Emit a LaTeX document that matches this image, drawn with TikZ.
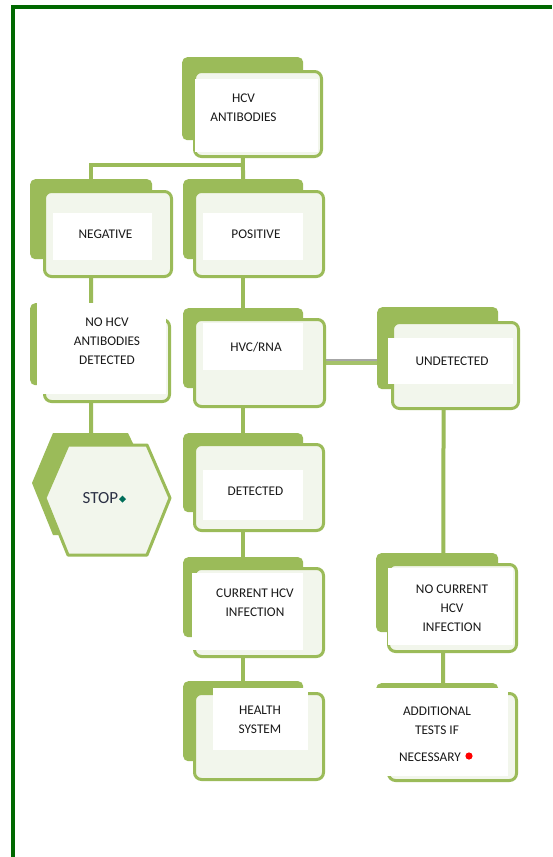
\documentclass[tikz,border=0pt]{standalone}
\usepackage{fontspec}
\setmainfont{Carlito}
\usetikzlibrary{calc}
\definecolor{olivegreen}{RGB}{155,187,89}
\definecolor{tintgreen}{RGB}{242,246,236}
\definecolor{framegreen}{RGB}{0,104,0}
\definecolor{txtc}{RGB}{25,25,25}
\definecolor{stoptxt}{RGB}{45,50,70}
\definecolor{stopdiam}{RGB}{0,110,90}
\pgfdeclarelayer{bg}
\pgfsetlayers{bg,main}
\newcommand\rnode[6]{\node[#1,anchor=north west,inner sep=0pt,minimum width={#5-#3},minimum height={#6-#4}] (#2) at (#3,#4) {};}
\tikzset{
  backbox/.style={fill=olivegreen,draw=none,rounded corners=5pt},
  frontbox/.style={fill=tintgreen,draw=olivegreen,line width=3pt,rounded corners=7pt},
  coverbox/.style={fill=white,draw=none},
  lbl/.style={font=\fontsize{13.3}{19}\selectfont,align=center,text=txtc,inner sep=0pt},
  conn/.style={draw=olivegreen,line width=4pt},
  shadowconn/.style={draw=black!35,line width=2pt},
  framestyle/.style={draw=framegreen,line width=3.5pt}
}
\begin{document}
\begin{tikzpicture}[x=1pt,y=-1pt]
\useasboundingbox (0,0) rectangle (552,857);
\begin{pgfonlayer}{bg}
\fill[white] (0,0) rectangle (552,857);
\end{pgfonlayer}
\draw[framestyle] (13,857) -- (13,7) -- (552,7);

% back boxes
\rnode{backbox}{hcvB}{182}{57}{303}{140}
\rnode{backbox}{negB}{30}{179}{152}{259}
\rnode{backbox}{posB}{183}{179}{303}{259}
\rnode{backbox}{nohB}{30}{303}{152}{385}
\rnode{backbox}{hvcB}{183}{308}{303}{388}
\rnode{backbox}{undB}{377}{307}{498}{389}
\rnode{backbox}{detB}{183}{433}{303}{512}
\rnode{backbox}{curB}{183}{557}{303}{637}
\rnode{backbox}{heaB}{183}{681}{303}{761}
\rnode{backbox}{ncB}{376}{553}{498}{632}
\rnode{backbox}{addB}{376}{683}{498}{760}

% front boxes
\rnode{frontbox}{hcv}{193}{70}{320}{155}
\rnode{frontbox}{neg}{43}{190}{170}{275}
\rnode{frontbox}{pos}{193}{190}{322}{275}
\rnode{frontbox}{noh}{43}{318}{168}{400}
\rnode{frontbox}{hvc}{193}{318}{323}{405}
\rnode{frontbox}{und}{391}{321}{517}{407}
\rnode{frontbox}{det}{193}{443}{322}{529}
\rnode{frontbox}{cur}{193}{567}{322}{655}
\rnode{frontbox}{hea}{193}{692}{322}{778}
\rnode{frontbox}{nc}{387}{563}{515}{650}
\rnode{frontbox}{add}{387}{692}{515}{779}

% white inner areas
\rnode{coverbox}{hcvW}{195}{79}{318}{152}
\rnode{coverbox}{negW}{53}{213}{152}{260}
\rnode{coverbox}{posW}{203}{213}{303}{260}
\rnode{coverbox}{nohW}{37}{303}{166}{394}
\rnode{coverbox}{hvcW}{203}{323}{303}{370}
\rnode{coverbox}{undW}{388}{338}{513}{384}
\rnode{coverbox}{detW}{203}{470}{303}{520}
\rnode{coverbox}{curW}{192}{573}{303}{650}
\rnode{coverbox}{heaW}{213}{688}{308}{750}
\rnode{coverbox}{ncW}{388}{568}{513}{645}
\rnode{coverbox}{addW}{373}{688}{508}{776}

% STOP hexagon
\fill[olivegreen] (53,433) -- (128,433) -- (152,483) -- (128,535) -- (53,535) -- (32,483) -- cycle;
\draw[fill=tintgreen,draw=olivegreen,line width=3pt,line join=round]
  (68,445) -- (147,445) -- (170,498) -- (147,555) -- (68,555) -- (45,498) -- cycle;
\coordinate (stopT) at (91,440);

% labels
\node[lbl] (hcvT) at (243.5,107.5) {HCV\\ANTIBODIES};
\node[lbl] (negT) at (105.5,234) {NEGATIVE};
\node[lbl] (posT) at (256,234) {POSITIVE};
\node[lbl] (nohT) at (107,341.5) {NO HCV\\ANTIBODIES\\DETECTED};
\node[lbl] (hvcT) at (256,347) {HVC/RNA};
\node[lbl] (undT) at (452,361) {UNDETECTED};
\node[lbl] (detT) at (255.5,491) {DETECTED};
\node[lbl] (curT) at (255,603) {CURRENT HCV\\INFECTION};
\node[lbl] (heaT) at (260,719.5) {HEALTH\\SYSTEM};
\node[lbl] (ncT) at (452,608) {NO CURRENT\\HCV\\INFECTION};
\node[lbl] (addT) at (437,720.5) {ADDITIONAL\\TESTS IF};
\node[lbl] (addT2) at (430,757) {NECESSARY};
\node[lbl,font=\fontsize{17}{20}\selectfont,text=stoptxt] (stopTx) at (100.5,498.5) {STOP};
\fill[stopdiam] (122.5,495.5) -- (126,499) -- (122.5,502.5) -- (119,499) -- cycle;
\fill[red] (469,756) circle (3.6);

% connectors (behind boxes)
\begin{pgfonlayer}{bg}
\coordinate (split) at (243,165);
\draw[conn] (hcvB.center) -- (posB.center);
\draw[conn] (split) -| (negB.center);
\draw[conn] (negB.center) -- (nohB.center) -- (stopT);
\draw[conn] (posB.center) -- (hvcB.center) -- (detB.center) -- (curB.center) -- (heaB.center);
\draw[shadowconn] ([yshift=2.8pt]hvc.east) -- ([yshift=2.8pt]hvc.east -| undB.west);
\draw[conn,draw=olivegreen!90!white] (hvc.east) -- (hvc.east -| undB.west);
\draw[conn] ([xshift=6pt]undB.center) -- ([xshift=6pt]ncB.center) -- ([xshift=6pt]addB.center);
\end{pgfonlayer}
\end{tikzpicture}
\end{document}
